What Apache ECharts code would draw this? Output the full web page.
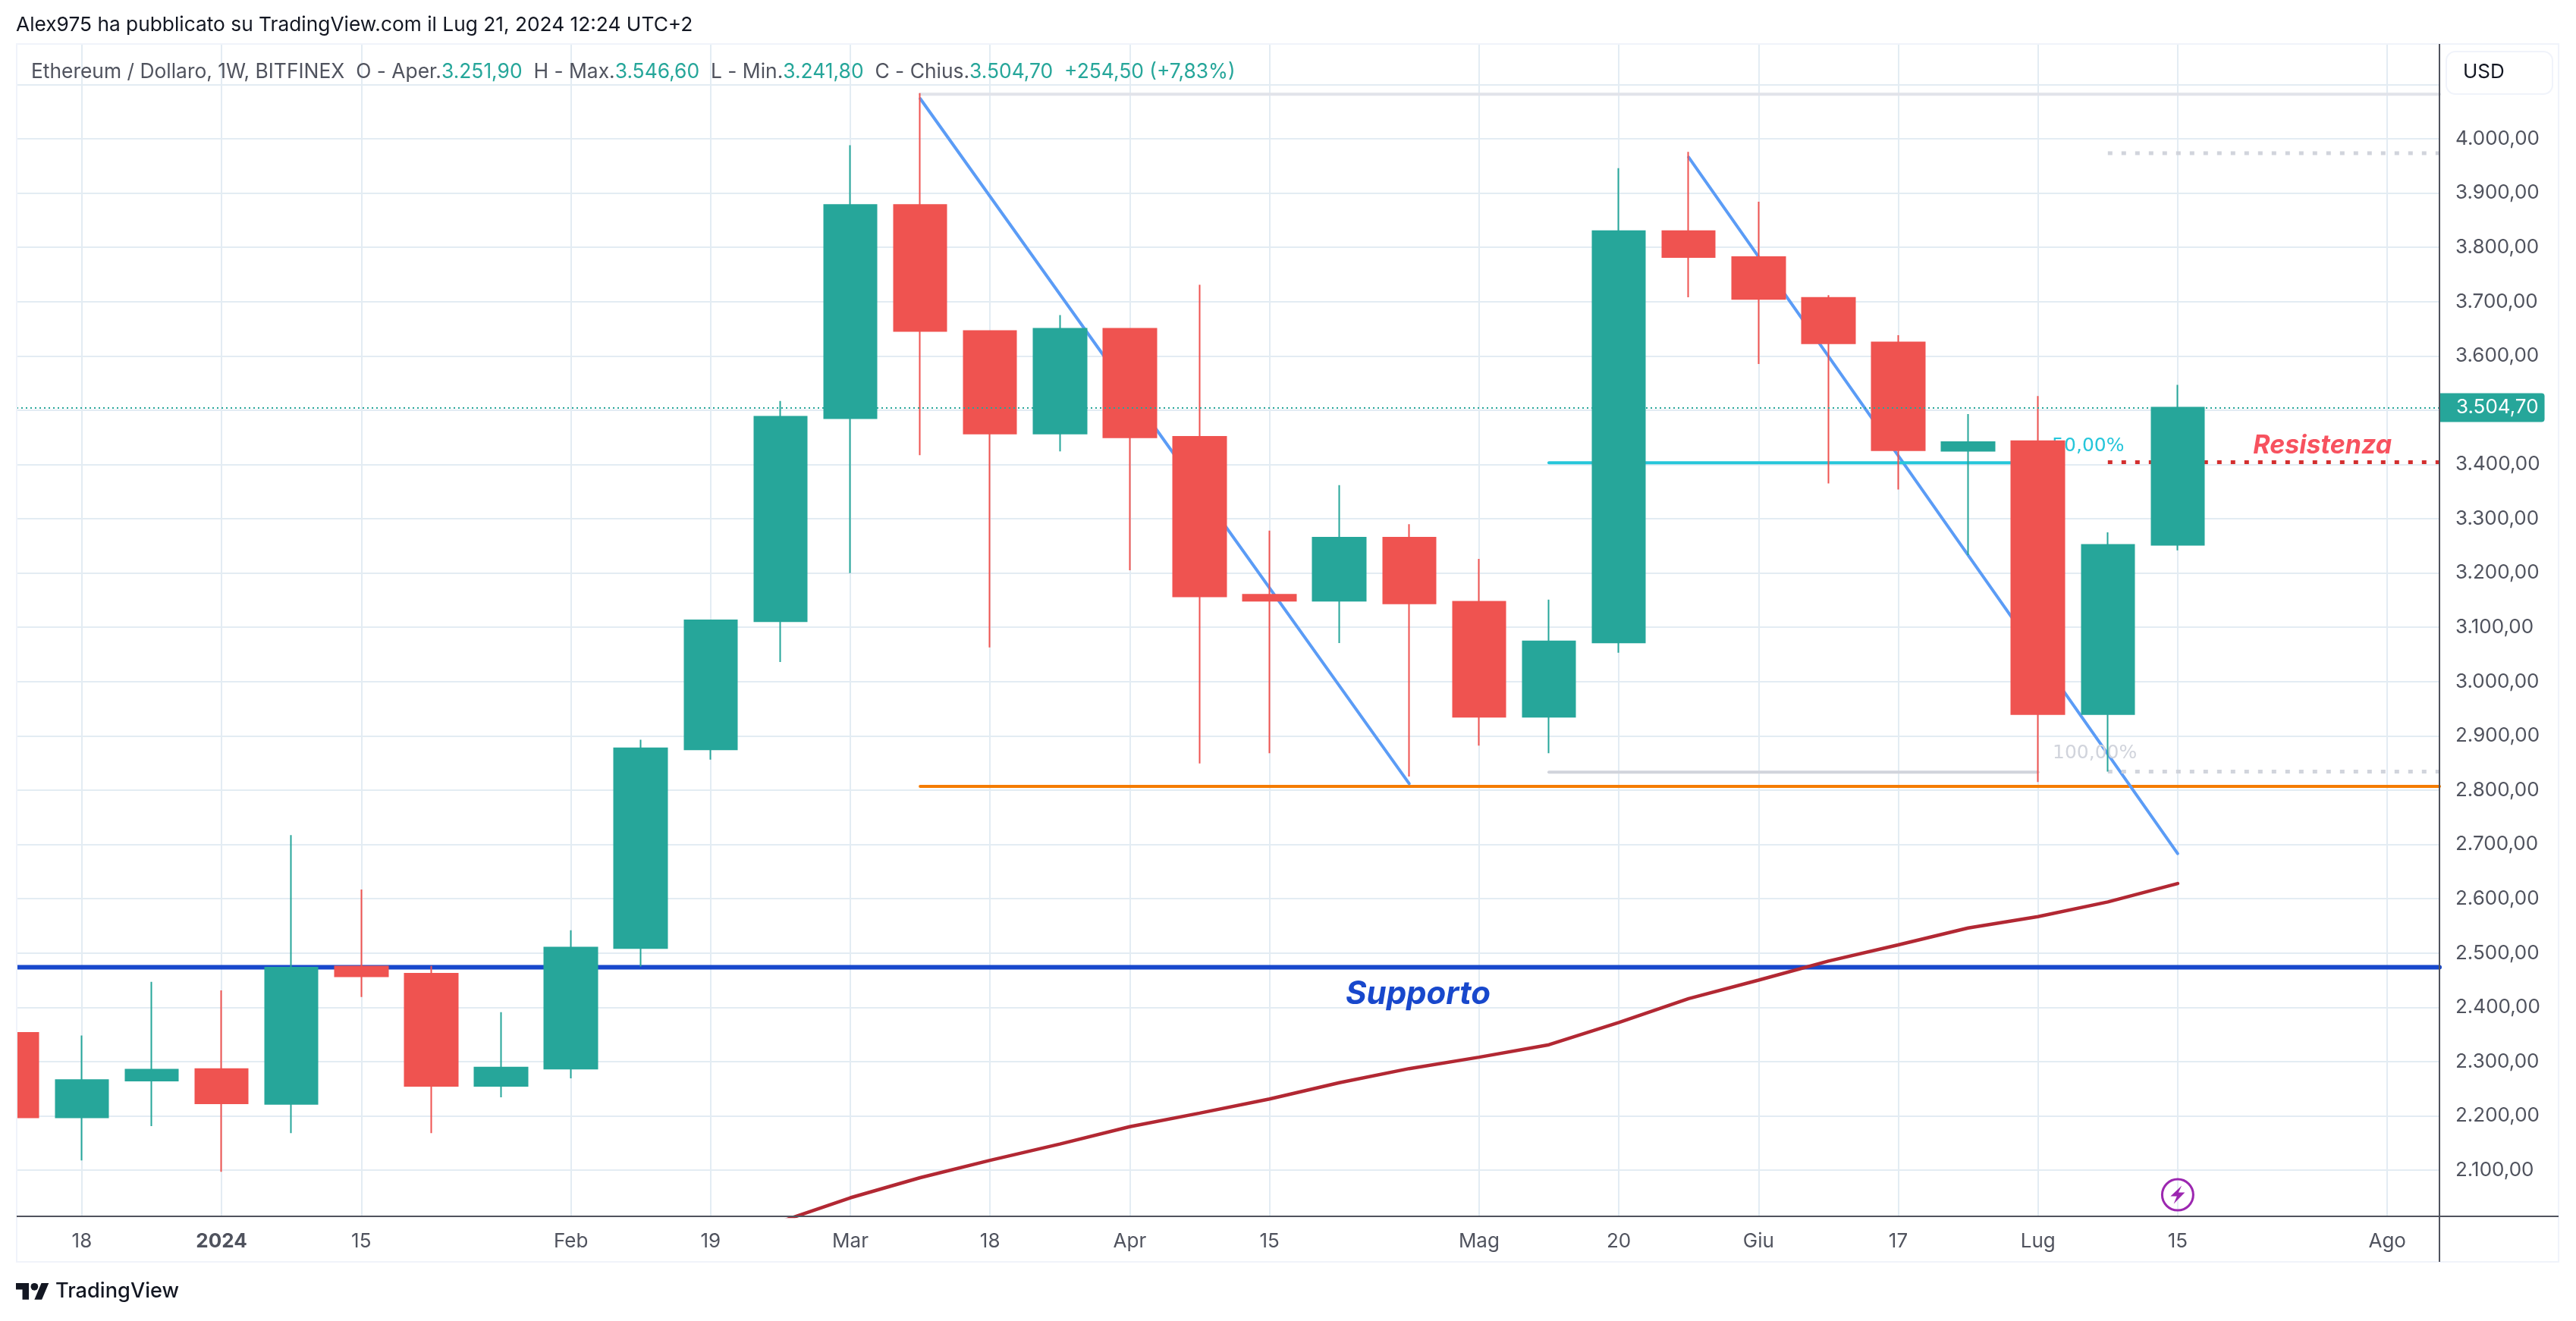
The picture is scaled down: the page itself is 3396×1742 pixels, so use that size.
<!DOCTYPE html>
<html>
<head>
<meta charset="utf-8">
<style>
  html, body { margin: 0; padding: 0; background: #fff; }
  #chart { width: 3396px; height: 1742px; }
</style>
<script src="https://cdn.jsdelivr.net/npm/echarts@6/dist/echarts.min.js"></script>
</head>
<body>
<div id="chart"></div>
<script>
// weekly candles, week 0 = 18 Dec 2023, week 30 = 15 Jul 2024
var weeks  = [-1, 0, 1, 2, 3, 4, 5, 6, 7, 8, 9, 10, 11, 12, 13, 14, 15, 16, 17, 18, 19, 20, 21, 22, 23, 24, 25, 26, 27, 28, 29, 30];
var opens  = [2353, 2197, 2265, 2286, 2222, 2475, 2462, 2255, 2287, 2509, 2875, 3111, 3485, 3878, 3646, 3457, 3650, 3451, 3160, 3149, 3265, 3147, 2935, 3072, 3830, 3782, 3707, 3625, 3425, 3443, 2940, 3251.9];
var closes = [2197, 2266, 2285, 2223, 2473, 2457, 2255, 2289, 2510, 2877, 3113, 3488, 3878, 3646, 3457, 3650, 3450, 3157, 3149, 3265, 3144, 2935, 3074, 3830, 3782, 3705, 3623, 3426, 3441, 2940, 3252, 3504.7];
var lows   = [2197, 2118, 2181, 2097, 2168, 2419, 2168, 2234, 2269, 2475, 2856, 3036, 3200, 3417, 3063, 3424, 3205, 2849, 2868, 3071, 2825, 2882, 2868, 3053, 3708, 3585, 3365, 3354, 3233, 2815, 2834, 3241.8];
var highs  = [2353, 2348, 2447, 2431, 2717, 2617, 2476, 2391, 2542, 2893, 3113, 3517, 3988, 4084, 3646, 3675, 3650, 3731, 3278, 3362, 3290, 3226, 3151, 3946, 3976, 3884, 3712, 3638, 3493, 3526, 3275, 3546.6];

// moving average
var maWeeks  = [10, 11, 12, 13, 14, 15, 16, 17, 18, 19, 20, 21, 22, 23, 24, 25, 26, 27, 28, 29, 30];
var maValues = [2005, 2049, 2086, 2118, 2148, 2180, 2205, 2231, 2261, 2287, 2308, 2331, 2372, 2416, 2450, 2485, 2515, 2546, 2567, 2594, 2628];

// axis ticks
var tickWeeks  = [0, 2, 4, 7, 9, 11, 13, 15, 17, 20, 22, 24, 26, 28, 30, 33];
var tickLabels = ['18', '2024', '15', 'Feb', '19', 'Mar', '18', 'Apr', '15', 'Mag', '20', 'Giu', '17', 'Lug', '15', 'Ago'];
var priceTicks  = [2100, 2200, 2300, 2400, 2500, 2600, 2700, 2800, 2900, 3000, 3100, 3200, 3300, 3400, 3500, 3600, 3700, 3800, 3900, 4000, 4100];
var priceLabels = [2100, 2200, 2300, 2400, 2500, 2600, 2700, 2800, 2900, 3000, 3100, 3200, 3300, 3400, 3600, 3700, 3800, 3900, 4000];

var xMin = -0.9327, xMax = 33.747;
var yMin = 2014.8, yMax = 4174.6;

// drawings on the chart: [startWeek, startPrice, endWeek, endPrice]
var supportLine = [xMin, 2473.7, xMax, 2473.7];
var orangeLine  = [12, 2807, xMax, 2807];
var trendLine1  = [12, 4074, 19, 2812];
var trendLine2  = [23, 3966, 30, 2683];
var fibTop      = [12, 4082, xMax, 4082];
var fibMid      = [21, 3403, 28, 3403];
var fibLow      = [21, 2833, 28, 2833];
var dotsTop     = [29, 3973.5, xMax, 3973.5];
var dotsMid     = [29, 3404, xMax, 3404];
var dotsLow     = [29, 2834, xMax, 2834];

var lastPrice = 3504.7;

var noteTexts = ['50,00%', '100,00%', 'Resistenza', 'Supporto'];
var noteWeeks = [28.2, 28.21, 31.08, 18.09];
var notePrices = [3433, 2868, 3435, 2424];
var flashWeek = 30, flashPrice = 2054.5;

var legendParts = ['Ethereum / Dollaro, 1W, BITFINEX', 'O - Aper.', '3.251,90', 'H - Max.', '3.546,60', 'L - Min.', '3.241,80', 'C - Chius.', '3.504,70', '+254,50 (+7,83%)'];

var GREEN = '#26a69a', RED = '#ef5350', GRID = '#e3ecf3', TEXT = '#50535e';
var FONT = 'Inter';

function priceText(v) {
    var parts = v.toFixed(2).split('.');
    return parts[0].replace(/\B(?=(\d{3})+$)/g, '.') + ',' + parts[1];
}

function segment(name, seg, color, width, type) {
    return {
        name: name,
        type: 'line',
        z: 2,
        symbol: 'none',
        silent: true,
        data: [[seg[0], seg[1]], [seg[2], seg[3]]],
        lineStyle: { color: color, width: width, type: type || 'solid', cap: type ? 'butt' : 'round' }
    };
}

var candleData = weeks.map(function (w, i) {
    return [w, opens[i], closes[i], lows[i], highs[i]];
});

var noteStyles = [
    { fontFamily: 'DejaVu Sans', fontSize: 25, color: '#26c6da' },
    { fontFamily: 'DejaVu Sans', fontSize: 25, color: '#d1d4dc' },
    { fontFamily: FONT, fontSize: 34, fontWeight: 'bold', fontStyle: 'italic', color: '#f7525f' },
    { fontFamily: FONT, fontSize: 42, fontWeight: 'bold', fontStyle: 'italic', color: '#1848cc' }
];

var legendRich = {
    n: { fontFamily: FONT, fontSize: 26.4, fontWeight: 'normal', color: TEXT },
    v: { fontFamily: FONT, fontSize: 26.4, fontWeight: 'normal', color: GREEN }
};
var legendText = '{n|' + legendParts[0] + '  ' + legendParts[1] + '}{v|' + legendParts[2] + '}{n|  ' + legendParts[3] + '}{v|' + legendParts[4] +
    '}{n|  ' + legendParts[5] + '}{v|' + legendParts[6] + '}{n|  ' + legendParts[7] + '}{v|' + legendParts[8] + '  ' + legendParts[9] + '}';

var option = {
    animation: false,
    backgroundColor: '#ffffff',
    title: [
        { text: 'Alex975 ha pubblicato su TradingView.com il Lug 21, 2024 12:24 UTC+2', left: 21, top: 20, padding: 0,
          textStyle: { fontFamily: FONT, fontSize: 26.3, fontWeight: 'normal', color: '#131722' } },
        { text: legendText, left: 41, top: 82, padding: 0, textStyle: { fontWeight: 'normal', rich: legendRich } },
        { text: 'TradingView', left: 73, top: 1689, padding: 0,
          textStyle: { fontFamily: FONT, fontSize: 27.2, fontWeight: 500, color: '#131722' } }
    ],
    grid: { left: 22, right: 180, top: 58, bottom: 138 },
    xAxis: {
        type: 'value',
        min: xMin,
        max: xMax,
        axisLine: { show: false },
        axisTick: { show: false, customValues: tickWeeks },
        splitLine: { show: true, lineStyle: { color: GRID, width: 2 } },
        axisLabel: {
            customValues: tickWeeks,
            margin: 20,
            hideOverlap: false,
            showMinLabel: true,
            showMaxLabel: true,
            fontFamily: FONT,
            fontSize: 26,
            color: TEXT,
            formatter: function (v) {
                var label = tickLabels[tickWeeks.indexOf(v)];
                return label === '2024' ? '{b|2024}' : label;
            },
            rich: { b: { fontFamily: FONT, fontSize: 26, fontWeight: 'bold', color: TEXT } }
        }
    },
    yAxis: {
        type: 'value',
        position: 'right',
        min: yMin,
        max: yMax,
        axisLine: { show: false },
        axisTick: { show: false, customValues: priceTicks },
        splitLine: { show: true, lineStyle: { color: GRID, width: 2 } },
        axisLabel: {
            customValues: priceLabels,
            margin: 21,
            fontFamily: FONT,
            fontSize: 26,
            color: TEXT,
            formatter: function (v) { return priceText(v); }
        }
    },
    series: [
        segment('Supporto', supportLine, '#1848cc', 6),
        segment('Minimo', orangeLine, '#f57c00', 4),
        segment('Trend 1', trendLine1, '#5b9cf6', 4),
        segment('Trend 2', trendLine2, '#5b9cf6', 4),
        segment('Fib 0', fibTop, '#e1e3ea', 4),
        segment('Fib 50', fibMid, '#26c6da', 4),
        segment('Fib 100', fibLow, '#d1d4dc', 4),
        segment('Fib 0 ext', dotsTop, '#d1d4dc', 5, [6, 12]),
        segment('Fib 50 ext', dotsMid, '#d32f2f', 5, [6, 12]),
        segment('Fib 100 ext', dotsLow, '#d1d4dc', 5, [6, 12]),
        {
            name: 'MA',
            type: 'line',
            z: 2,
            symbol: 'none',
            silent: true,
            data: maWeeks.map(function (w, i) { return [w, maValues[i]]; }),
            lineStyle: { color: '#b22833', width: 4.5, cap: 'round' }
        },
        {
            name: 'Note',
            type: 'scatter',
            z: 2,
            silent: true,
            symbolSize: 0,
            itemStyle: { opacity: 1 },
            data: noteTexts.map(function (t, i) {
                return {
                    value: [noteWeeks[i], notePrices[i]],
                    label: Object.assign({ show: true, position: 'inside', align: 'left', verticalAlign: 'middle', opacity: 1, formatter: t }, noteStyles[i])
                };
            })
        },
        {
            name: 'ETHUSD',
            type: 'candlestick',
            z: 3,
            barWidth: 70,
            silent: true,
            encode: { x: 0, y: [1, 2, 3, 4] },
            data: candleData,
            itemStyle: { color: GREEN, color0: RED, borderColor: GREEN, borderColor0: RED, borderWidth: 2 },
            markLine: {
                silent: true,
                symbol: 'none',
                animation: false,
                lineStyle: { color: GREEN, width: 2, type: [2, 4] },
                label: {
                    show: true,
                    position: 'end',
                    distance: 0,
                    formatter: priceText(lastPrice),
                    fontFamily: FONT,
                    fontSize: 26,
                    color: '#ffffff',
                    backgroundColor: GREEN,
                    borderRadius: [0, 4, 4, 0],
                    padding: [6, 8, 6, 22]
                },
                data: [{ yAxis: lastPrice }]
            }
        },
        {
            name: 'Flash ring',
            type: 'scatter',
            z: 4,
            silent: true,
            symbol: 'circle',
            symbolSize: 41,
            itemStyle: { color: 'rgba(255,255,255,0)', borderColor: '#9c27b0', borderWidth: 3, opacity: 1 },
            data: [[flashWeek, flashPrice]]
        },
        {
            name: 'Flash bolt',
            type: 'scatter',
            z: 4,
            silent: true,
            symbol: 'path://M14 0 L0 14 L8 14 L4 24 L18 9 L10 9 Z',
            symbolSize: [19, 24],
            itemStyle: { color: '#9c27b0', opacity: 1 },
            data: [[flashWeek, flashPrice]]
        }
    ],
    graphic: [
        // la candela tagliata a sinistra non deve uscire dal riquadro
        { type: 'rect', z: 9, silent: true, shape: { x: 0, y: 58, width: 21, height: 1546 }, style: { fill: '#ffffff' } },
        // cornice e assi
        { type: 'rect', z: 10, silent: true, shape: { x: 22, y: 58, width: 3351, height: 1606 }, style: { fill: 'none', stroke: '#f0f3fa', lineWidth: 2 } },
        { type: 'line', z: 10, silent: true, shape: { x1: 22, y1: 1604, x2: 3373, y2: 1604 }, style: { stroke: TEXT, lineWidth: 2 } },
        { type: 'line', z: 10, silent: true, shape: { x1: 3216, y1: 58, x2: 3216, y2: 1664 }, style: { stroke: TEXT, lineWidth: 2 } },
        // USD
        { type: 'rect', z: 10, silent: true, shape: { x: 3225, y: 68, width: 140, height: 56, r: 12 }, style: { fill: '#fff', stroke: '#f0f3fa', lineWidth: 2 } },
        { type: 'text', z: 11, silent: true, x: 3247, y: 82, style: { text: 'USD', fill: '#131722', font: '26px Inter' } },
        // logo
        { type: 'polygon', z: 10, silent: true, x: 21, y: 1687, scaleX: 1.22, scaleY: 1.22,
          shape: { points: [[14, 22], [7, 22], [7, 11], [0, 11], [0, 4], [14, 4]] }, style: { fill: '#131722' } },
        { type: 'polygon', z: 10, silent: true, x: 21, y: 1687, scaleX: 1.22, scaleY: 1.22,
          shape: { points: [[28, 22], [20, 22], [27.5, 4], [35.5, 4]] }, style: { fill: '#131722' } },
        { type: 'circle', z: 10, silent: true, x: 21, y: 1687, scaleX: 1.22, scaleY: 1.22,
          shape: { cx: 20, cy: 8, r: 4 }, style: { fill: '#131722' } }
    ]
};

var myChart = echarts.init(document.getElementById('chart'), null, { renderer: 'canvas' });
myChart.setOption(option);
</script>
</body>
</html>
